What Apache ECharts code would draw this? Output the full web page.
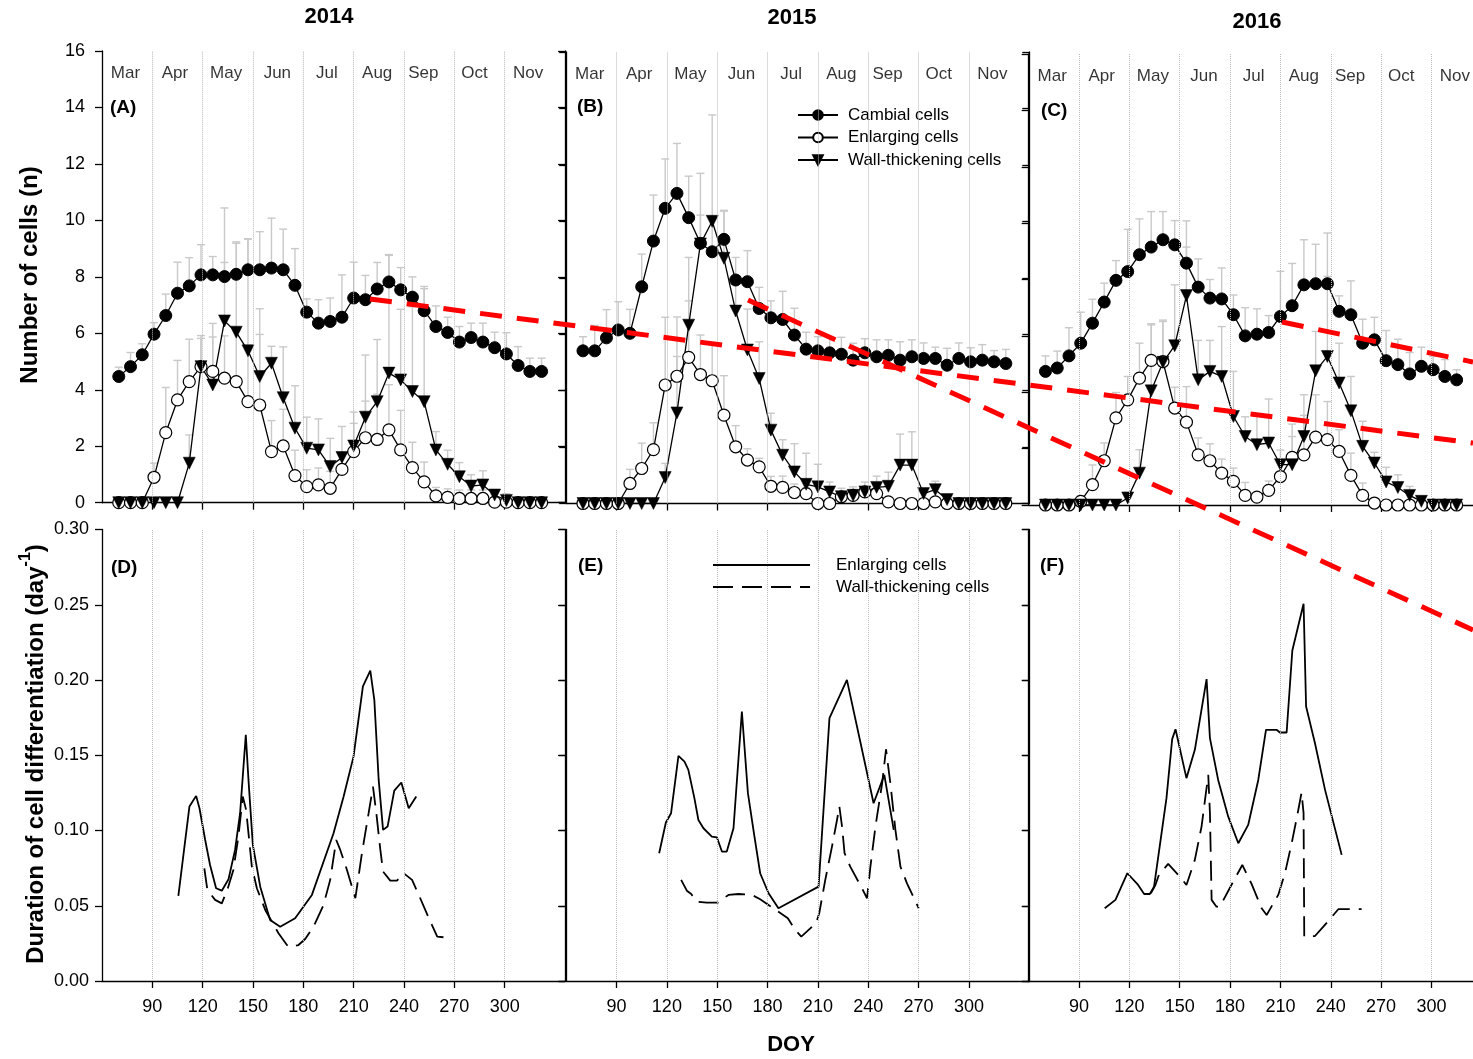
<!DOCTYPE html>
<html><head><meta charset="utf-8">
<script src="https://cdn.jsdelivr.net/npm/echarts@6/dist/echarts.min.js"></script>
<style>html,body{margin:0;padding:0;background:#fff}#c{width:1473px;height:1059px}</style>
</head><body><div id="c"></div>
<script>
// ---------- DATA ----------
const doyWeekly = [70,77,84,91,98,105,112,119,126,133,140,147,154,161,168,175,182,189,196,203,210,217,224,231,238,245,252,259,266,273,280,287,294,301,308,315,322];
const doy2016 = [70,77,84,91,98,105,112,119,126,133,140,147,154,161,168,175,182,189,196,203,210,217,224,231,238,245,252,259,266,273,280,287,294,301,308,315];

const xTicks = [90,120,150,180,210,240,270,300];
const months = ['Mar','Apr','May','Jun','Jul','Aug','Sep','Oct','Nov'];
const monthPos = [74,103.5,134,164.5,194,224,251.5,282,314];
const years = ['2014','2015','2016'];
const topLetters = ['(A)','(B)','(C)'];
const bottomLetters = ['(D)','(E)','(F)'];

// 2014
const cambial2014 = [4.47,4.82,5.24,5.97,6.63,7.42,7.68,8.07,8.07,8.01,8.09,8.25,8.25,8.31,8.25,7.70,6.75,6.36,6.42,6.57,7.25,7.19,7.57,7.82,7.54,7.28,6.80,6.24,6.03,5.69,5.85,5.69,5.49,5.27,4.86,4.65,4.65];
const enlarging2014 = [0,0,0,0.90,2.48,3.64,4.29,4.82,4.65,4.41,4.29,3.58,3.46,1.81,2.01,0.96,0.57,0.63,0.51,1.18,1.81,2.30,2.24,2.58,1.87,1.24,0.74,0.24,0.19,0.15,0.15,0.15,0.02,0.02,0,0,0];
const wall2014 = [0,0,0,0,0,0,1.40,4.82,4.17,6.44,6.04,5.38,4.47,4.94,3.72,2.64,1.93,1.87,1.28,1.60,2.01,3.03,3.58,4.59,4.35,3.94,3.58,1.87,1.36,0.92,0.59,0.63,0.27,0.08,0,0,0];
const cambialSd2014 = [0.33,0.5,0.39,0.41,0.76,1.1,1.0,1.07,0.65,0.5,1.1,1.1,1.35,1.77,1.44,1.3,0.47,0.83,0.83,1.5,1.27,0.86,0.94,0.94,0.79,0.72,0.86,0.73,0.54,0.55,0.51,0.67,0.55,0.75,0.67,0.47,0.47];
const enlargingSd2014 = [0,0,0,0.5,1.6,1.4,1.5,1.1,1.7,1.5,1.8,2.0,2.5,1.1,1.3,0.9,0.6,0.6,0.6,0.6,1.0,1.3,1.6,1.6,1.4,0.9,0.7,0.3,0.3,0.3,0.3,0.3,0.3,0.3,0,0,0];
const wallSd2014 = [0,0,0,0,0,0,1.0,1.0,1.7,4.0,3.2,3.96,2.4,0.6,1.8,1.5,1.1,1.1,1.0,1.1,1.2,2.2,2.2,4.2,2.5,3.0,4.0,0.65,0.5,0.5,0.4,0.5,0.2,0.1,0,0,0];

// 2015
const cambial2015 = [5.41,5.41,5.87,6.15,6.03,7.68,9.30,10.46,10.99,10.13,9.22,8.92,9.36,7.92,7.86,6.91,6.58,6.52,5.97,5.47,5.41,5.34,5.29,5.08,5.34,5.20,5.25,5.08,5.20,5.14,5.14,4.90,5.14,5.02,5.08,5.02,4.96];
const enlarging2015 = [0,0,0,0,0.71,1.24,1.91,4.20,4.51,5.18,4.57,4.35,3.13,2.01,1.54,1.30,0.61,0.57,0.39,0.35,0,0,0.24,0.29,0.41,0.35,0.06,0,0,0,0.06,0,0,0,0,0,0];
const wall2015 = [0,0,0,0,0,0,0,0.92,3.21,6.32,9.2,10.0,8.69,6.82,5.44,4.43,2.60,1.71,1.12,0.68,0.59,0.41,0.24,0.29,0.41,0.57,0.61,1.36,1.36,0.35,0.49,0.14,0,0,0,0,0];
const cambialSd2015 = [0.5,0.9,1.0,1.0,0.85,1.16,1.63,1.75,1.77,1.47,1.0,1.2,1.0,0.8,1.1,0.75,0.6,1.0,0.95,0.6,0.5,0.55,0.6,0.6,0.5,0.6,0.55,0.65,0.6,0.55,0.4,0.6,0.55,0.5,0.55,0.4,0.5];
const enlargingSd2015 = [0,0,0,0,0.5,0.9,0.95,2.4,2.1,2.0,1.4,1.3,1.4,0.75,0.4,0.3,0.35,0.4,0.3,0.2,0.15,0.15,0.15,0.15,0.15,0.2,0.1,0,0,0,0.1,0,0,0,0,0,0];
const wallSd2015 = [0,0,0,0,0,0,0,0.5,2.0,2.4,2.5,3.77,1.7,1.0,1.45,1.3,0.6,0.55,1.0,1.1,0.8,0.35,0.3,0.3,0.35,0.4,0.5,1.1,1.18,0,0.3,0,0,0,0,0,0];

// 2016
const cambial2016 = [4.74,4.86,5.29,5.74,6.45,7.20,7.97,8.28,8.88,9.15,9.41,9.23,8.58,7.73,7.34,7.31,6.75,6.00,6.06,6.12,6.69,7.07,7.81,7.85,7.85,6.87,6.75,5.74,5.86,5.12,4.98,4.65,4.92,4.80,4.56,4.44];
const enlarging2016 = [0,0,0,0.13,0.72,1.57,3.09,3.73,4.50,5.13,5.09,3.44,2.94,1.78,1.57,1.13,0.84,0.34,0.28,0.52,1.01,1.69,1.78,2.41,2.32,1.90,1.05,0.34,0.07,0,0,0,0,0,0,0];
const wall2016 = [0,0,0,0,0,0,0,0.25,1.13,4.05,5.06,5.65,7.43,4.44,4.74,4.56,3.14,2.43,2.14,2.20,1.43,1.43,2.43,4.76,5.27,4.33,3.34,2.08,1.49,0.82,0.62,0.34,0.13,0,0,0];
const cambialSd2016 = [0.55,0.6,1.0,1.1,0.85,0.67,0.7,1.5,1.27,1.26,1.0,0.86,1.5,1.0,0.66,1.1,0.7,1.0,0.9,0.6,1.6,1.5,1.6,1.4,1.8,0.55,1.2,0.85,0.8,1.07,0.9,0.76,0.68,0.47,0.6,0.36];
const enlargingSd2016 = [0,0,0,0.2,0.7,0.63,0.9,0.83,1.24,1.26,1.42,0.74,1.26,0.6,0.6,0.5,0.47,0.46,0.15,0.33,0.6,0.74,1.4,1.5,1.35,0.77,0.79,0.44,0.1,0,0,0,0,0,0,0];
const wallSd2016 = [0,0,0,0,0,0,0,0.2,0.83,2.38,1.5,2.16,1.72,1.4,1.1,1.77,1.6,0.7,1.06,1.56,0.52,1.44,1.48,1.4,2.84,1.41,1.22,0.89,0.38,0.52,0.45,0.32,0.15,0,0,0];

// Duration of cell differentiation (DOY, day^-1)
const durEnlarging2014 = [[105.5,0.0565],[112.1,0.1159],[116.1,0.1230],[118.1,0.1148],[121.5,0.0937],[124.4,0.0771],[128,0.0616],[131.4,0.0600],[135.4,0.0676],[139.3,0.0871],[142.3,0.1115],[145.7,0.1636],[147.3,0.1336],[149.9,0.0904],[154.3,0.0627],[160.2,0.0406],[166.2,0.0361],[175.1,0.0417],[185.1,0.0572],[198,0.0982],[204,0.1226],[209.9,0.1491],[215.5,0.1957],[219.9,0.2063],[222.3,0.1868],[224.9,0.1336],[227.5,0.1004],[230.2,0.1026],[234.2,0.1265],[238.4,0.1319],[242.8,0.1148],[247.3,0.1226]];
const durWall2014 = [[121,0.0749],[122.8,0.0605],[127.4,0.0539],[131.4,0.0516],[135,0.0616],[138.3,0.0738],[141.3,0.0959],[143.9,0.1226],[145.9,0.1137],[149.3,0.0760],[152.3,0.0616],[157.3,0.0472],[165.2,0.0317],[170.2,0.0239],[172.2,0.0224],[177.1,0.0239],[181.1,0.0279],[186.1,0.0361],[192,0.0505],[196,0.0672],[199.6,0.0937],[202,0.0871],[206,0.0738],[211,0.0550],[214.9,0.0849],[218.9,0.1115],[221.5,0.1292],[223.5,0.1115],[225.9,0.0871],[227.5,0.0727],[231.8,0.0667],[235.8,0.0667],[239.8,0.0716],[244.8,0.0672],[248.8,0.0572],[254.8,0.0417],[259.8,0.0295],[265.7,0.0288]];
const durEnlarging2015 = [[115.4,0.0849],[119.4,0.1053],[122.5,0.1115],[126.9,0.1496],[130.5,0.1458],[132.8,0.1403],[136.4,0.1215],[138.8,0.1070],[141.8,0.1015],[146.8,0.0959],[149.8,0.0955],[152.8,0.0860],[155.7,0.0860],[159.7,0.1015],[164.7,0.1791],[168.3,0.1248],[172.2,0.0959],[175.6,0.0716],[180.6,0.0583],[186.5,0.0483],[210.4,0.0627],[216.9,0.1747],[227.3,0.2001],[243.2,0.1181],[249.6,0.1370],[255.2,0.1004]];
const durWall2015 = [[128.5,0.0672],[131.9,0.0600],[134.5,0.0578],[137.9,0.0527],[143.8,0.0521],[150.4,0.0521],[156.7,0.0572],[162.7,0.0578],[170.7,0.0572],[175.6,0.0543],[192.1,0.0417],[196.5,0.0339],[200.1,0.0295],[208.9,0.0384],[210.8,0.0450],[214.4,0.0672],[218.4,0.0893],[221.4,0.1070],[222.8,0.1159],[224.4,0.1026],[225.9,0.0849],[229.3,0.0760],[235.9,0.0623],[239.3,0.0550],[241.3,0.0760],[244.3,0.1026],[248.3,0.1314],[250.6,0.1540],[253.2,0.1314],[256.2,0.1004],[259.2,0.0760],[263.1,0.0649],[270.1,0.0483]];
const durEnlarging2016 = [[105.3,0.0483],[111.7,0.0539],[118.8,0.0716],[125.2,0.0638],[128.8,0.0578],[132.2,0.0578],[134.7,0.0627],[142.1,0.1215],[145.5,0.1607],[147.5,0.1673],[154,0.1348],[159,0.1536],[166,0.2006],[168,0.1614],[172.9,0.1336],[178.9,0.1092],[184.9,0.0915],[190.8,0.1037],[196.8,0.1336],[201.4,0.1669],[207.7,0.1669],[209.7,0.1651],[213.7,0.1651],[217.1,0.2196],[223.8,0.2507],[225.3,0.1824],[230.6,0.1580],[236.6,0.1270],[246.5,0.0838]];
const durWall2016 = [[132.8,0.0583],[135.5,0.0638],[137.6,0.0705],[143.1,0.0778],[150.1,0.0693],[154,0.0638],[159,0.0805],[163,0.1026],[167,0.1370],[168,0.1115],[169,0.0539],[171.9,0.0494],[173.9,0.0494],[180.8,0.0638],[187.3,0.0771],[192.8,0.0645],[198.8,0.0483],[201.8,0.0439],[208.7,0.0572],[212.7,0.0716],[216.7,0.0915],[220.3,0.1115],[222.6,0.1252],[223.8,0.1115],[224.2,0.0295],[230.6,0.0299],[235.6,0.0361],[244.5,0.0477],[247.5,0.0477],[258.4,0.0477]];

// red dashed annotation strokes drawn over the figure (page pixel space)
const redLines = [
  [[370,299],[1473,443]],
  [[748,300],[1473,630]],
  [[1282,322],[1473,362]]
];

// ---------- CHART ----------
const FONT = 'Liberation Sans, Arial, Helvetica, sans-serif';
const chart = echarts.init(document.getElementById('c'), null, {renderer:'canvas', width:1473, height:1059});

const PX_PER_DAY = 1.6781;
const PANEL_W = 463.1;
// the 2016 panels run past the right edge of the page; they are cut at the page edge
const CUT_W = 1473 - 1028.7;
const CUT_MAX = 60 + CUT_W / PX_PER_DAY;
const panels = [
  {left:102,    top:51,    height:451.7, kind:'top',    labels:true,  w:PANEL_W, max:336, rightAxis:true},
  {left:566.2,  top:52,    height:451.5, kind:'top',    labels:false, w:PANEL_W, max:336, rightAxis:true},
  {left:1028.7, top:54,    height:451,   kind:'top',    labels:false, w:CUT_W,   max:CUT_MAX, rightAxis:false},
  {left:102,    top:529.5, height:451.5, kind:'bottom', labels:true,  w:PANEL_W, max:336, rightAxis:true},
  {left:566.2,  top:529.5, height:451.5, kind:'bottom', labels:false, w:PANEL_W, max:336, rightAxis:true},
  {left:1028.7, top:529.5, height:451.5, kind:'bottom', labels:false, w:CUT_W,   max:CUT_MAX, rightAxis:false}
];

const topSets = [
  {doy:doyWeekly, c:cambial2014, e:enlarging2014, w:wall2014, cs:cambialSd2014, es:enlargingSd2014, ws:wallSd2014},
  {doy:doyWeekly, c:cambial2015, e:enlarging2015, w:wall2015, cs:cambialSd2015, es:enlargingSd2015, ws:wallSd2015},
  {doy:doy2016,   c:cambial2016, e:enlarging2016, w:wall2016, cs:cambialSd2016, es:enlargingSd2016, ws:wallSd2016}
];
const bottomSets = [
  {e:durEnlarging2014, w:durWall2014},
  {e:durEnlarging2015, w:durWall2015},
  {e:durEnlarging2016, w:durWall2016}
];

const grids = panels.map(p => ({left:p.left, top:p.top, width:p.w, height:p.height}));
grids.push({left:0, top:0, right:0, bottom:0});

const axisLineStyle = {color:'#000', width:1.3};
const xAxes = panels.map((p,i) => ({
  type:'value', gridIndex:i, min:60, max:p.max, interval:30, position:'bottom',
  axisLine:{show:true, onZero:false, lineStyle:axisLineStyle},
  axisTick:{show:true, inside:false, length:7, customValues:xTicks, lineStyle:axisLineStyle},
  axisLabel:{show:p.kind==='bottom', customValues:xTicks, margin:17, fontSize:18, color:'#000', fontFamily:FONT,
             formatter:v => (xTicks.indexOf(v) >= 0 ? String(v) : '')},
  splitLine:{show:false}
}));
xAxes.push({type:'value', gridIndex:6, min:0, max:1473, show:false});

const yAxes = [];
panels.forEach((p,i) => {
  const isTop = p.kind === 'top';
  const base = isTop ? {min:0, max:16, interval:2} : {min:0, max:0.3, interval:0.05};
  yAxes.push(Object.assign({type:'value', gridIndex:i, position:'left',
    axisLine:{show:true, onZero:false, lineStyle:axisLineStyle},
    axisTick:{show:true, inside:false, length:7, lineStyle:axisLineStyle},
    axisLabel:{show:p.labels, margin:isTop?17:13, fontSize:18, color:'#000', fontFamily:FONT,
               formatter:v => isTop ? String(v) : v.toFixed(2)},
    splitLine:{show:false}}, base));
  yAxes.push(Object.assign({type:'value', gridIndex:i, position:'right', show:p.rightAxis,
    axisLine:{show:true, onZero:false, lineStyle:axisLineStyle},
    axisTick:{show:true, inside:true, length:7, lineStyle:axisLineStyle},
    axisLabel:{show:false}, splitLine:{show:false}}, base));
});
yAxes.push({type:'value', gridIndex:6, min:0, max:1059, inverse:true, show:false});

const gridMarkLine = {
  silent:true, symbol:['none','none'], label:{show:false}, animation:false,
  lineStyle:{type:'dotted', color:'#b8b8b8', width:1},
  emphasis:{disabled:true},
  data: xTicks.map(v => ({xAxis:v}))
};

function errRender(params, api){
  const x = api.value(0), y = api.value(1), t = api.value(2);
  if (!(t > y)) return null;
  const p0 = api.coord([x,y]), p1 = api.coord([x,t]);
  const st = {stroke:'#c9c9c9', lineWidth:1.4};
  return {type:'group', children:[
    {type:'line', shape:{x1:p0[0], y1:p0[1], x2:p1[0], y2:p1[1]}, style:st},
    {type:'line', shape:{x1:p1[0]-4, y1:p1[1], x2:p1[0]+4, y2:p1[1]}, style:st}
  ]};
}

const series = [];
const lineCommon = {type:'line', animation:false, emphasis:{disabled:true}, lineStyle:{color:'#000', width:1.3}, z:3};

topSets.forEach((s,i) => {
  const mk = vals => s.doy.map((d,k) => [d, vals[k]]);
  const mkErr = (vals, sd) => s.doy.map((d,k) => [d, vals[k], vals[k] + sd[k]]);
  [[s.c,s.cs],[s.e,s.es],[s.w,s.ws]].forEach(pair => {
    series.push({type:'custom', xAxisIndex:i, yAxisIndex:2*i, renderItem:errRender,
      data:mkErr(pair[0], pair[1]), encode:{x:0, y:[1,2]}, z:1, silent:true, animation:false});
  });
  series.push(Object.assign({}, lineCommon, {name:'Cambial cells', xAxisIndex:i, yAxisIndex:2*i,
    data:mk(s.c), symbol:'circle', symbolSize:12, itemStyle:{color:'#000', borderColor:'#000', borderWidth:1},
    markLine:gridMarkLine}));
  series.push(Object.assign({}, lineCommon, {name:'Enlarging cells', xAxisIndex:i, yAxisIndex:2*i,
    data:mk(s.e), symbol:'circle', symbolSize:12, itemStyle:{color:'#fff', borderColor:'#000', borderWidth:1.2}}));
  series.push(Object.assign({}, lineCommon, {name:'Wall-thickening cells', xAxisIndex:i, yAxisIndex:2*i,
    data:mk(s.w), symbol:'triangle', symbolRotate:180, symbolSize:12, itemStyle:{color:'#000', borderColor:'#000', borderWidth:0.5}}));
  // month labels
  series.push({type:'scatter', xAxisIndex:i, yAxisIndex:2*i, silent:true, animation:false,
    symbolSize:1, itemStyle:{color:'rgba(0,0,0,0)'},
    data: months.map((m,k) => [monthPos[k], 15.2, m]),
    label:{show:true, position:'inside', formatter:p => p.value[2], fontSize:17, color:'#000', fontFamily:FONT}});
});

bottomSets.forEach((s,j) => {
  const i = j + 3;
  series.push(Object.assign({}, lineCommon, {name:'Enlarging duration', xAxisIndex:i, yAxisIndex:2*i,
    data:s.e, symbol:'none', lineStyle:{color:'#000', width:1.8}, markLine:gridMarkLine}));
  series.push(Object.assign({}, lineCommon, {name:'Wall-thickening duration', xAxisIndex:i, yAxisIndex:2*i,
    data:s.w, symbol:'none', lineStyle:{color:'#000', width:1.8, type:[20,9]}}));
});

redLines.forEach(l => {
  series.push({type:'line', xAxisIndex:6, yAxisIndex:12, data:l, symbol:'none', silent:true, animation:false,
    lineStyle:{color:'#ff0000', width:5, type:[22,15]}, z:20});
});

const graphics = [];
const txt = (x, y, text, size, bold, align) => ({type:'text', x:x, y:y, z:30,
  style:{text:text, font:(bold?'bold ':'') + size + 'px ' + FONT, fill:'#000', textAlign:align||'left', textVerticalAlign:'middle'}});
// year titles
graphics.push(txt(329, 17, years[0], 22, true, 'center'));
graphics.push(txt(792, 18, years[1], 22, true, 'center'));
graphics.push(txt(1257, 22, years[2], 22, true, 'center'));
// panel letters
graphics.push(txt(110, 108, topLetters[0], 19, true));
graphics.push(txt(577, 107, topLetters[1], 19, true));
graphics.push(txt(1041, 111, topLetters[2], 19, true));
graphics.push(txt(111, 568, bottomLetters[0], 19, true));
graphics.push(txt(578, 566, bottomLetters[1], 19, true));
graphics.push(txt(1040, 566, bottomLetters[2], 19, true));
// axis titles
graphics.push(txt(791, 1045, 'DOY', 22, true, 'center'));
graphics.push({type:'text', x:30, y:275, rotation:Math.PI/2, z:30,
  style:{text:'Number of cells (n)', font:'bold 24px ' + FONT, fill:'#000', textAlign:'center', textVerticalAlign:'middle'}});
graphics.push({type:'text', x:33, y:754, rotation:Math.PI/2, z:30,
  style:{text:'{a|Duration of cell differentiation (day}{s|-1}{a|)}', fill:'#000', textAlign:'center', textVerticalAlign:'middle',
    rich:{a:{font:'bold 24px ' + FONT, fill:'#000', lineHeight:30, verticalAlign:'bottom'},
          s:{font:'bold 16px ' + FONT, fill:'#000', lineHeight:30, verticalAlign:'top'}}}});
// bottom legend (panel E)
graphics.push({type:'line', z:30, shape:{x1:713, y1:565, x2:810, y2:565}, style:{stroke:'#000', lineWidth:1.8}});
graphics.push({type:'line', z:30, shape:{x1:713, y1:587, x2:810, y2:587}, style:{stroke:'#000', lineWidth:1.8, lineDash:[20,9]}});
graphics.push(txt(836, 565, 'Enlarging cells', 17, false));
graphics.push(txt(836, 587, 'Wall-thickening cells', 17, false));

chart.setOption({
  animation:false,
  backgroundColor:'#fff',
  textStyle:{fontFamily:FONT},
  grid:grids,
  xAxis:xAxes,
  yAxis:yAxes,
  legend:{data:['Cambial cells','Enlarging cells','Wall-thickening cells'], orient:'vertical',
    left:797, top:106, itemWidth:40, itemHeight:12, itemGap:4.5, padding:0, selectedMode:false,
    textStyle:{fontSize:17, color:'#000', fontFamily:FONT, lineHeight:18, padding:[0,0,0,5]}},
  series:series,
  graphic:graphics
});
</script>
</body></html>
